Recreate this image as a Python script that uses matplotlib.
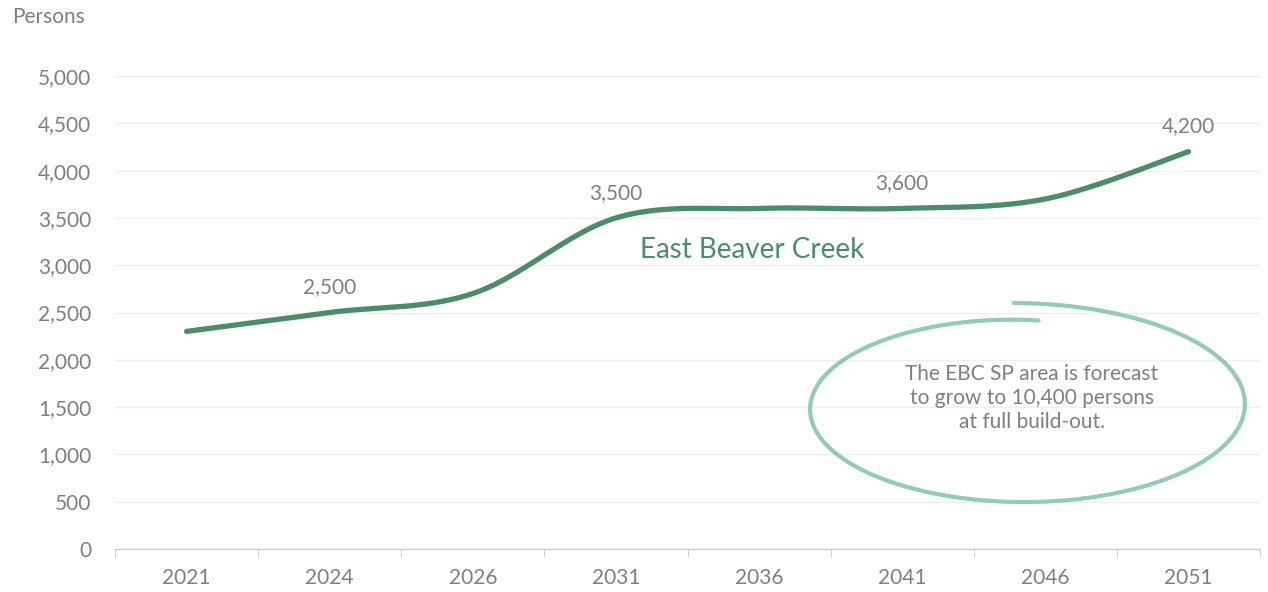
import numpy as np
import matplotlib.pyplot as plt

# population forecast, East Beaver Creek
years = ["2021", "2024", "2026", "2031", "2036", "2041", "2046", "2051"]
persons = [2300, 2500, 2700, 3500, 3600, 3600, 3700, 4200]
labelled = {"2024": 2500, "2031": 3500, "2041": 3600, "2051": 4200}

note = "The EBC SP area is forecast\nto grow to 10,400 persons\nat full build-out."

LINE = "#4b8c6b"
RING = "#93cbb5"
GREY = "#7f7f7f"

plt.rcParams['font.family'] = ['Lato', 'DejaVu Sans']


def smooth(x, y, n=40):
    """Bezier smoothing through every point (Catmull-Rom style controls)."""
    x = np.asarray(x, float)
    y = np.asarray(y, float)
    px = np.concatenate([[x[0]], x, [x[-1]]])
    py = np.concatenate([[y[0]], y, [y[-1]]])
    xs, ys = [], []
    t = np.linspace(0, 1, n)
    for i in range(1, len(px) - 2):
        p0 = np.array([px[i], py[i]])
        p3 = np.array([px[i + 1], py[i + 1]])
        c1 = p0 + (np.array([px[i + 1], py[i + 1]]) - np.array([px[i - 1], py[i - 1]])) / 6
        c2 = p3 - (np.array([px[i + 2], py[i + 2]]) - np.array([px[i], py[i]])) / 6
        b = ((1 - t) ** 3)[:, None] * p0 + (3 * (1 - t) ** 2 * t)[:, None] * c1 \
            + (3 * (1 - t) * t ** 2)[:, None] * c2 + (t ** 3)[:, None] * p3
        xs.extend(b[:, 0])
        ys.extend(b[:, 1])
    return np.array(xs), np.array(ys)


fig = plt.figure(figsize=(12.68, 5.92), dpi=100)
ax = fig.add_axes([115 / 1268, 1 - 549 / 592, 1145 / 1268, (549 - 76) / 592])

xpos = np.arange(len(years))
sx, sy = smooth(xpos, persons)
ax.plot(sx, sy, color=LINE, lw=3.8, solid_capstyle='round', zorder=3)

for i, yr in enumerate(years):
    if yr in labelled:
        ax.annotate(f"{labelled[yr]:,}", (i, labelled[yr]), xytext=(0, 11),
                    textcoords='offset points', ha='center', va='bottom',
                    fontsize=15, color=GREY)

ax.set_xlim(-0.5, len(years) - 0.5)
ax.set_ylim(0, 5000)
ax.set_yticks(np.arange(0, 5001, 500))
ax.set_yticklabels([f"{v:,}" for v in range(0, 5001, 500)])
ax.set_xticks(xpos)
ax.set_xticklabels(years)
ax.set_xticks(np.arange(-0.5, len(years)), minor=True)

ax.grid(axis='y', color='#efefef', lw=1)
ax.set_axisbelow(True)
for s in ['top', 'right', 'left']:
    ax.spines[s].set_visible(False)
ax.spines['bottom'].set_color('#c8c8c8')
ax.tick_params(axis='y', length=0, pad=17, labelsize=15, labelcolor=GREY)
ax.tick_params(axis='x', which='major', length=0, pad=14, labelsize=15, labelcolor=GREY)
ax.tick_params(axis='x', which='minor', length=6, color='#c8c8c8', direction='out')

fig.text(12 / 1268, 1 - 17 / 592, "Persons", fontsize=15, color=GREY, va='center', ha='left')

ax.text(3.95, 3160, "East Beaver Creek", fontsize=20, color=LINE, ha='center', va='center')

# hand-drawn style ring around the note, in figure pixels
ang = np.radians(np.linspace(84, 451, 400))
frac = np.linspace(0, 1, 400)
b = 86.7 + 17 * frac
a = 2.28 * b
rx = 1018 + a * np.cos(ang)
ry = 592 - (406.7 - b * np.sin(ang))
fig.add_artist(plt.Line2D(rx / 1268, ry / 592, color=RING, lw=3.0,
                          solid_capstyle='round', transform=fig.transFigure))

fig.text(1032 / 1268, 1 - 398 / 592, note, fontsize=15, color=GREY,
         ha='center', va='center', linespacing=1.25)

fig.savefig("out.png", dpi=100)
